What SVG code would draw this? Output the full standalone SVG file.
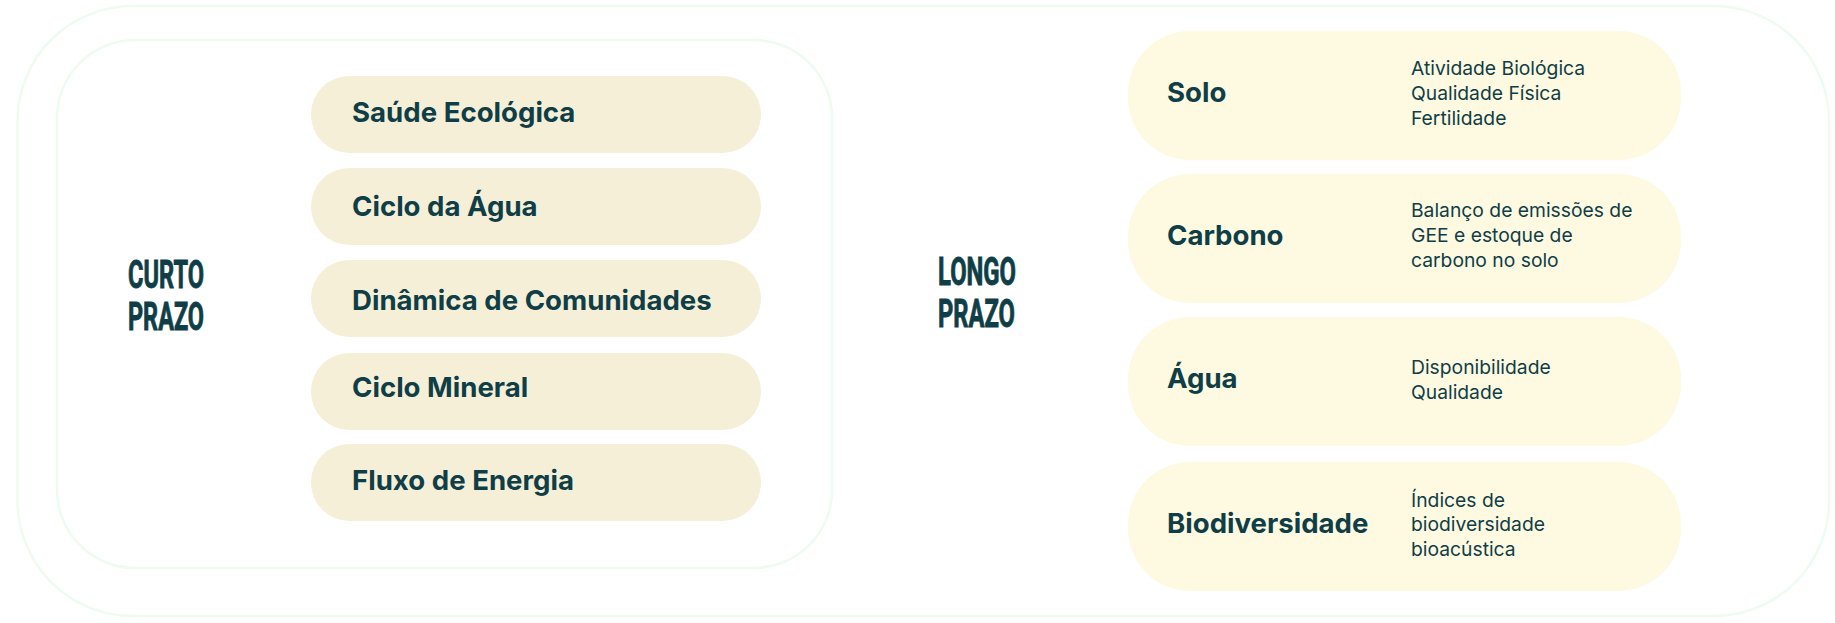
<svg xmlns="http://www.w3.org/2000/svg" width="1835" height="623" viewBox="0 0 1835 623">
  <style>
    .frame { fill: none; stroke: #eefbf0; stroke-width: 2.5; }
    .pillS { fill: #f6efd8; }
    .pillL { fill: #fef9e1; }
    .t { fill: #0f3e47; font-family: Inter, "Liberation Sans", sans-serif; }
    .b { font-weight: 700; font-size: 27.6px; }
    .d { font-weight: 400; font-size: 19.3px; }
    .h { fill: #0f3e47; stroke: #0f3e47; stroke-width: 0.9; font-family: Roboto, "Liberation Sans", sans-serif; font-weight: 700; font-size: 38px; }
  </style>
  <rect width="1835" height="623" fill="#ffffff"/>
  <g id="frames">
    <rect class="frame" x="17.5" y="6" width="1811.5" height="610" rx="115"/>
    <rect class="frame" x="57" y="40" width="775" height="528" rx="78"/>
  </g>
  <g id="connectors"></g>
  <g id="curto-prazo">
    <text class="h" x="128" y="287.5" textLength="76" lengthAdjust="spacingAndGlyphs">CURTO</text>
    <text class="h" x="128" y="329.5" textLength="76" lengthAdjust="spacingAndGlyphs">PRAZO</text>
  </g>
  <g id="saude-ecologica">
    <rect class="pillS" x="311" y="76" width="450" height="77" rx="38"/>
    <text class="t b" x="352" y="121.5">Saúde Ecológica</text>
  </g>
  <g id="ciclo-agua">
    <rect class="pillS" x="311" y="168" width="450" height="77" rx="38"/>
    <text class="t b" x="352" y="215.5">Ciclo da Água</text>
  </g>
  <g id="dinamica-comunidades">
    <rect class="pillS" x="311" y="260" width="450" height="77" rx="38"/>
    <text class="t b" x="352" y="310">Dinâmica de Comunidades</text>
  </g>
  <g id="ciclo-mineral">
    <rect class="pillS" x="311" y="353" width="450" height="77" rx="38"/>
    <text class="t b" x="352" y="397">Ciclo Mineral</text>
  </g>
  <g id="fluxo-energia">
    <rect class="pillS" x="311" y="444" width="450" height="77" rx="38"/>
    <text class="t b" x="352" y="489.5">Fluxo de Energia</text>
  </g>
  <g id="longo-prazo">
    <text class="h" x="938" y="285" textLength="78" lengthAdjust="spacingAndGlyphs">LONGO</text>
    <text class="h" x="938" y="327" textLength="77" lengthAdjust="spacingAndGlyphs">PRAZO</text>
  </g>
  <g id="solo">
    <rect class="pillL" x="1128" y="31" width="553" height="129" rx="62"/>
    <text class="t b" x="1167" y="102.3">Solo</text>
    <text class="t d" x="1411" y="75">Atividade Biológica</text>
    <text class="t d" x="1411" y="100">Qualidade Física</text>
    <text class="t d" x="1411" y="124.5">Fertilidade</text>
  </g>
  <g id="carbono">
    <rect class="pillL" x="1128" y="174" width="553" height="129" rx="62"/>
    <text class="t b" x="1167" y="245">Carbono</text>
    <text class="t d" x="1411" y="216.7">Balanço de emissões de</text>
    <text class="t d" x="1411" y="241.7">GEE e estoque de</text>
    <text class="t d" x="1411" y="266.7">carbono no solo</text>
  </g>
  <g id="agua">
    <rect class="pillL" x="1128" y="317" width="553" height="129" rx="62"/>
    <text class="t b" x="1167" y="388.3">Água</text>
    <text class="t d" x="1411" y="373.5">Disponibilidade</text>
    <text class="t d" x="1411" y="398.5">Qualidade</text>
  </g>
  <g id="biodiversidade">
    <rect class="pillL" x="1128" y="462" width="553" height="129" rx="62"/>
    <text class="t b" x="1167" y="533.3">Biodiversidade</text>
    <text class="t d" x="1411" y="506.5">Índices de</text>
    <text class="t d" x="1411" y="531">biodiversidade</text>
    <text class="t d" x="1411" y="556">bioacústica</text>
  </g>
</svg>
